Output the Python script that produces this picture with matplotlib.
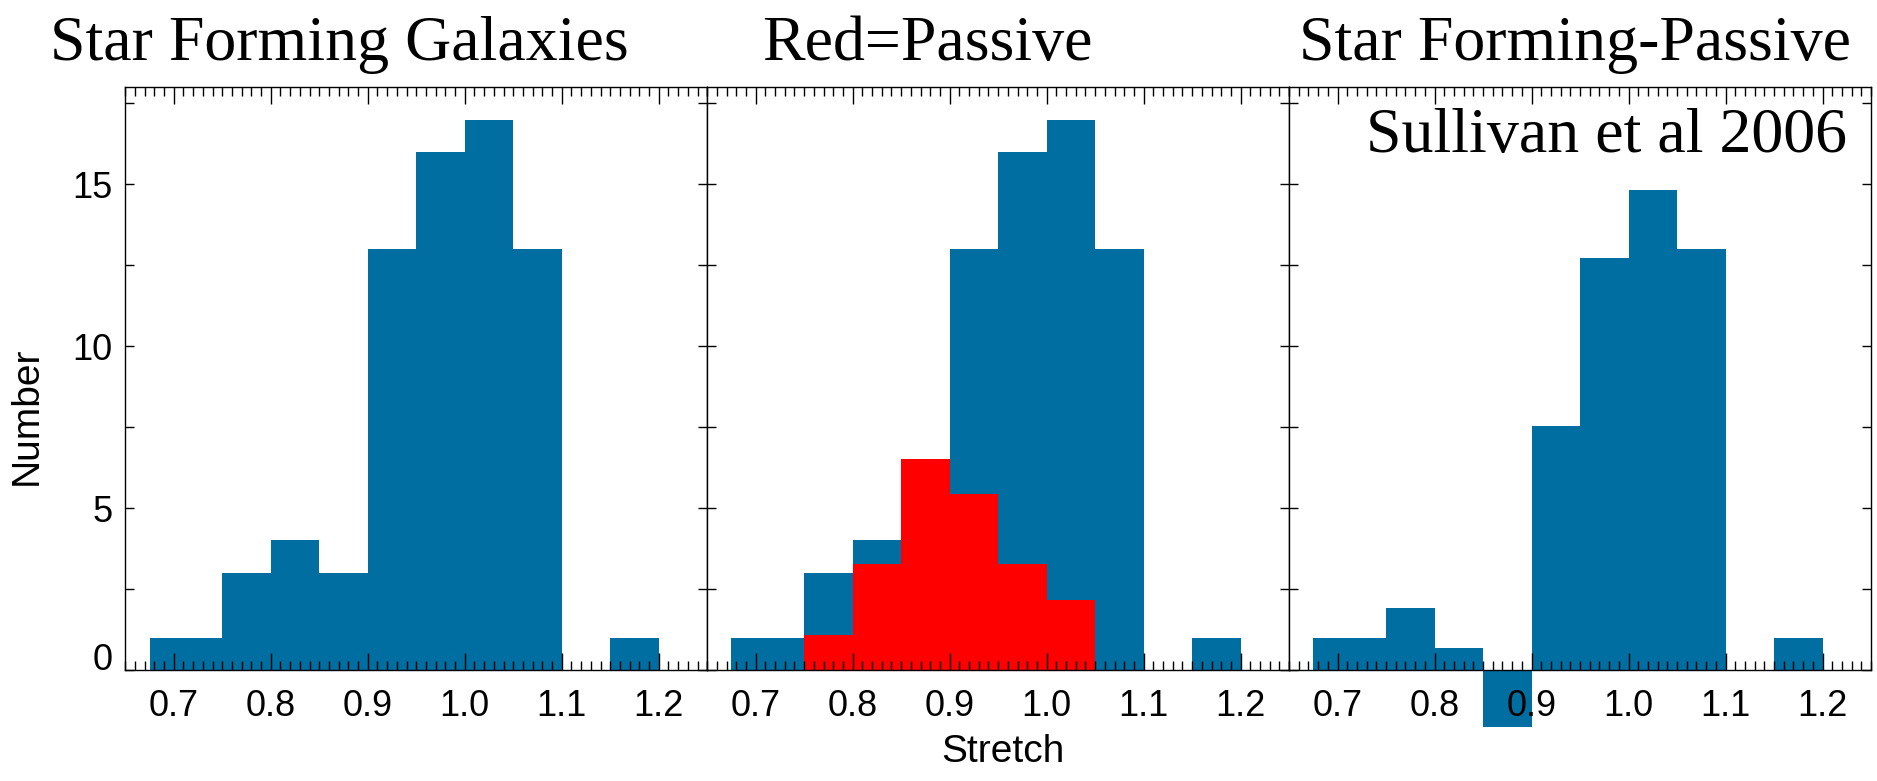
import numpy as np
import matplotlib
matplotlib.use("Agg")
import matplotlib.pyplot as plt
from matplotlib.ticker import MultipleLocator

# histogram bin edges (stretch) and counts
bin_edges = [0.675, 0.70, 0.75, 0.80, 0.85, 0.90, 0.95, 1.00, 1.05, 1.10, 1.15, 1.20]
sf_counts = [1, 1, 3, 4, 3, 13, 16, 17, 13, 0, 1]
passive_edges = [0.75, 0.80, 0.85, 0.90, 0.95, 1.00, 1.05]
passive_counts = [1.07, 3.28, 6.53, 5.44, 3.28, 2.17]
diff_counts = [1, 1, 1.9, 0.69, -1.76, 7.54, 12.72, 14.83, 13, 0, 1]

titles = ["Star Forming Galaxies", "Red=Passive", "Star Forming-Passive"]
title_x = [50, 762, 1299]
x_ticks = [0.7, 0.8, 0.9, 1.0, 1.1, 1.2]

blue = "#006ea0"
red = "#ff0000"
W, H = 1877, 781

fig = plt.figure(figsize=(W / 100, H / 100), dpi=100)
serif = "Liberation Serif"
sans = "Liberation Sans"


def draw_hist(ax, edges, counts, color):
    edges = np.array(edges)
    ax.bar(edges[:-1], counts, width=np.diff(edges), align="edge",
           color=color, linewidth=0, clip_on=False)


ax_left = 125.3
ax_w = 581.9
ax_top = 87.3
ax_bot = 669.9
axes = []
for i in range(3):
    ax = fig.add_axes([(ax_left + i * ax_w) / W, (H - ax_bot) / H,
                       ax_w / W, (ax_bot - ax_top) / H])
    axes.append(ax)

draw_hist(axes[0], bin_edges, sf_counts, blue)
draw_hist(axes[1], bin_edges, sf_counts, blue)
draw_hist(axes[1], passive_edges, passive_counts, red)
draw_hist(axes[2], bin_edges, diff_counts, blue)

for i, ax in enumerate(axes):
    ax.set_xlim(0.65, 1.25)
    ax.set_ylim(0, 18)
    ax.set_xticks(x_ticks)
    ax.set_xticklabels([f"{t:.1f}" for t in x_ticks])
    ax.xaxis.set_minor_locator(MultipleLocator(0.01))
    ax.yaxis.set_major_locator(MultipleLocator(2.5))
    ax.tick_params(axis="both", which="both", direction="in", top=True, right=True,
                   width=1.0, colors="black", labelsize=26)
    ax.tick_params(axis="x", which="major", length=12.5, pad=14)
    ax.tick_params(axis="x", which="minor", length=6.5)
    ax.tick_params(axis="y", which="major", length=6.5, pad=9)
    for lab in ax.get_xticklabels():
        lab.set_fontfamily(sans)
    if i == 0:
        ax.set_yticks([0, 2.5, 5, 7.5, 10, 12.5, 15, 17.5])
        ax.set_yticklabels(["0", "", "5", "", "10", "", "15", ""])
        for lab in ax.get_yticklabels():
            lab.set_fontfamily(sans)
        ax.get_yticklabels()[0].set_verticalalignment("baseline")
    else:
        ax.set_yticklabels([])
    for sp in ax.spines.values():
        sp.set_linewidth(1.0)
    fig.text(title_x[i] / W, 1 - 60 / H, titles[i], fontsize=46, family=serif,
             ha="left", va="baseline")

axes[2].text(1847 / W, 1 - 152 / H, "Sullivan et al 2006", transform=fig.transFigure,
             fontsize=46, family=serif, ha="right", va="baseline")

fig.text(1003 / W, 1 - 752 / H, "Stretch", fontsize=28, family=sans,
         ha="center", va="center")
fig.text(27 / W, 1 - 416 / H, "Number", fontsize=28, family=sans,
         rotation=90, ha="center", va="center")

fig.savefig("out.png", dpi=100)
